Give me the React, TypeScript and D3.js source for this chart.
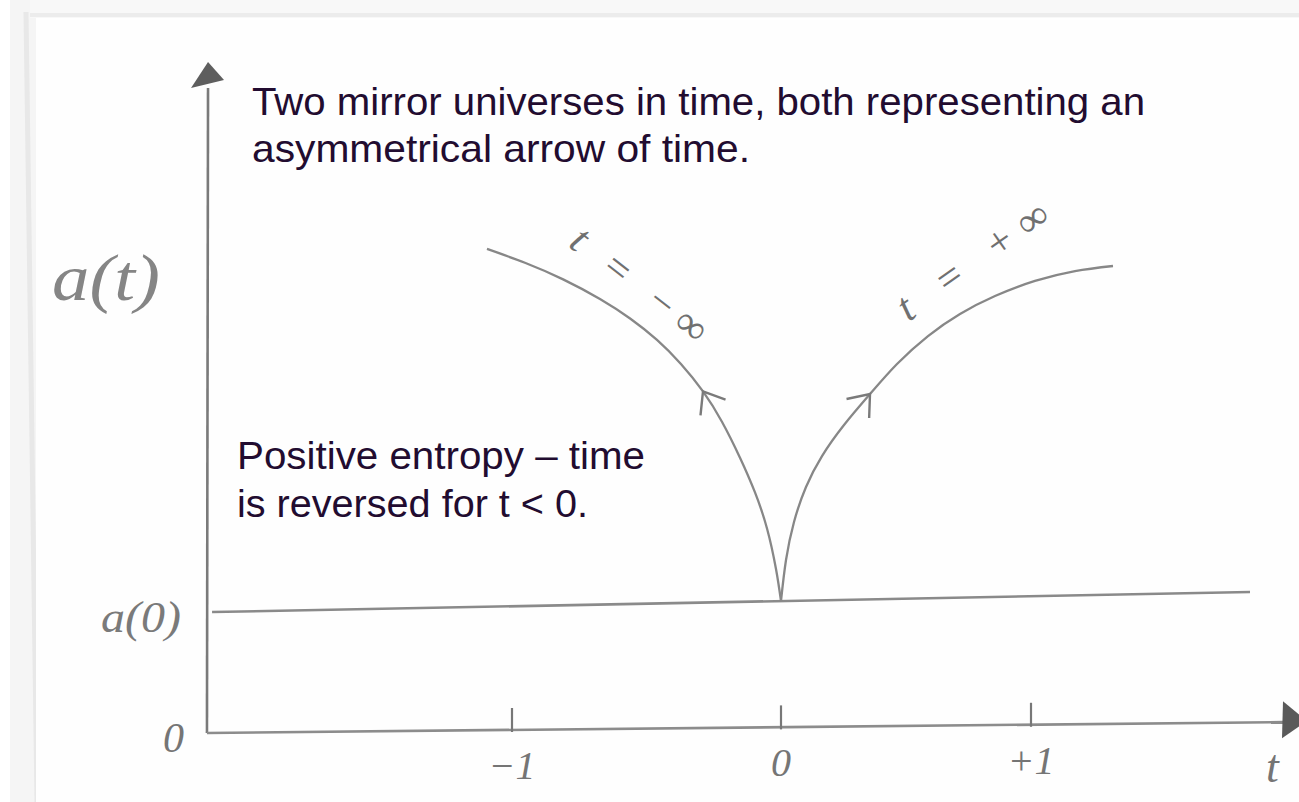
import React from "react";
import * as d3 from "d3";

// Time axis ticks and their hand-written labels
const T_TICKS = [-1, 0, 1];
const T_TICK_LABELS = ["\u22121", "0", "+1"];

// Scale factor a(t) at t = 0
const A0 = 1;

// Branch running back in time (t < 0): t values and scale factor a(t)
const LEFT_T = [0, -0.0186, -0.052, -0.0967, -0.152, -0.219, -0.29, -0.372, -0.461, -0.561, -0.673, -0.81, -0.952, -1.093];
const LEFT_A = [1.0, 1.246, 1.558, 1.835, 2.1, 2.377, 2.612, 2.823, 3.008, 3.173, 3.323, 3.474, 3.602, 3.708];

// Branch running forward in time (t > 0)
const RIGHT_T = [0, 0.02, 0.052, 0.1, 0.164, 0.252, 0.356, 0.464, 0.588, 0.716, 0.856, 1.016, 1.176, 1.328];
const RIGHT_A = [1.0, 1.315, 1.608, 1.877, 2.115, 2.354, 2.592, 2.823, 3.038, 3.208, 3.346, 3.462, 3.538, 3.577];

// Index of the point on each branch that carries a direction arrow
const LEFT_ARROW_INDEX = 6;
const RIGHT_ARROW_INDEX = 6;

// Sketched lines (slightly off level, as drawn by hand)
const X_AXIS_T = [-2.134, 2.008];
const X_AXIS_A = [-0.015, 0.068];
const Y_AXIS_T = [-2.134, -2.13];
const Y_AXIS_A = [-0.015, 4.946];
const A0_LINE_T = [-2.115, 1.876];
const A0_LINE_A = [0.915, 1.069];

const TITLE_LINES = [
  "Two mirror universes in time, both representing an",
  "asymmetrical arrow of time.",
];
const NOTE_LINES = ["Positive entropy \u2013 time", "is reversed for t < 0."];

const W = 1299;
const H = 802;
const INK = "#878787";
const TEXT = "#220c30";
const HAND = "'Liberation Serif', 'DejaVu Serif', serif";
const SANS = "'Liberation Sans', Arial, sans-serif";

const xScale = d3.scaleLinear().domain([-1, 0, 1]).range([512, 781, 1031]);
const yScale = d3.scaleLinear().domain([0, 1]).range([731, 601]);

const zip = (ts: number[], as: number[]): [number, number][] => ts.map((t, i) => [t, as[i]]);

const branchLine = d3
  .line<[number, number]>()
  .x((d) => xScale(d[0]))
  .y((d) => yScale(d[1]))
  .curve(d3.curveNatural);

const straight = d3
  .line<[number, number]>()
  .x((d) => xScale(d[0]))
  .y((d) => yScale(d[1]));

// Chevron arrowhead at a point on a branch, opening back along the curve
function chevron(pts: [number, number][], i: number, len = 24, spread = 38) {
  const [x, y] = [xScale(pts[i][0]), yScale(pts[i][1])];
  const [xb, yb] = [xScale(pts[i - 1][0]), yScale(pts[i - 1][1])];
  const back = Math.atan2(yb - y, xb - x);
  const s = (spread * Math.PI) / 180;
  const a1: [number, number] = [x + len * Math.cos(back - s), y + len * Math.sin(back - s)];
  const a2: [number, number] = [x + len * Math.cos(back + s), y + len * Math.sin(back + s)];
  return `M${a1[0]},${a1[1]}L${x},${y}L${a2[0]},${a2[1]}`;
}

export default function App() {
  const left = zip(LEFT_T, LEFT_A);
  const right = zip(RIGHT_T, RIGHT_A);
  const xAxis = zip(X_AXIS_T, X_AXIS_A);
  const yAxis = zip(Y_AXIS_T, Y_AXIS_A);
  const a0Line = zip(A0_LINE_T, A0_LINE_A);

  const axisAt = (t: number) => {
    const f = (t - X_AXIS_T[0]) / (X_AXIS_T[1] - X_AXIS_T[0]);
    return X_AXIS_A[0] + f * (X_AXIS_A[1] - X_AXIS_A[0]);
  };

  // arrow tips of the axes
  const xEnd = [xScale(X_AXIS_T[1]), yScale(X_AXIS_A[1])];
  const yEnd = [xScale(Y_AXIS_T[1]), yScale(Y_AXIS_A[1])];

  return (
    <svg
      width={W}
      height={H}
      viewBox={`0 0 ${W} ${H}`}
      style={{ position: "absolute", left: 0, top: 0, background: "#fff" }}
    >
      {/* page edge */}
      <rect x={10} y={0} width={26} height={H} fill="#f5f5f5" />
      <line x1={26} y1={12} x2={37} y2={H} stroke="#e8e8e8" strokeWidth={5} />
      <rect x={30} y={0} width={W - 30} height={18} fill="#f8f8f8" />
      <line x1={30} y1={15} x2={W} y2={15} stroke="#ececec" strokeWidth={4} />
      <rect x={36} y={20} width={W - 36} height={H - 20} fill="#fefefe" />

      {/* axes */}
      <path d={straight(yAxis) ?? ""} fill="none" stroke="#7a7a7a" strokeWidth={2.6} />
      <path
        d={`M${yEnd[0]},${yEnd[1] - 26}L${yEnd[0] - 17},${yEnd[1]}L${yEnd[0] + 16},${yEnd[1] - 8}Z`}
        fill="#5e5e5e"
      />
      <path d={straight(xAxis) ?? ""} fill="none" stroke="#8c8c8c" strokeWidth={2.6} />
      <path
        d={`M${xEnd[0] + 24},${xEnd[1] - 1}L${xEnd[0]},${xEnd[1] - 21}L${xEnd[0] - 1},${xEnd[1] + 16}Z`}
        fill="#5a5a5a"
      />

      {/* ticks and labels on the time axis */}
      {T_TICKS.map((t, i) => {
        const x = xScale(t);
        const y0 = yScale(axisAt(t));
        return (
          <g key={t}>
            <line x1={x} y1={y0 + 2} x2={x} y2={y0 - 22} stroke="#777" strokeWidth={2.2} />
            <text
              x={x}
              y={y0 + 49}
              textAnchor="middle"
              fontFamily={HAND}
              fontStyle="italic"
              fontSize={40}
              fill="#757575"
            >
              {T_TICK_LABELS[i]}
            </text>
          </g>
        );
      })}

      {/* a(0) level */}
      <path d={straight(a0Line) ?? ""} fill="none" stroke="#8a8a8a" strokeWidth={2.6} />

      {/* the two branches */}
      <path d={branchLine(left) ?? ""} fill="none" stroke={INK} strokeWidth={2.3} />
      <path d={branchLine(right) ?? ""} fill="none" stroke={INK} strokeWidth={2.3} />
      <path d={chevron(left, LEFT_ARROW_INDEX)} fill="none" stroke="#7a7a7a" strokeWidth={2.4} />
      <path d={chevron(right, RIGHT_ARROW_INDEX)} fill="none" stroke="#7a7a7a" strokeWidth={2.4} />

      {/* branch labels */}
      <text
        transform={`translate(637,288) rotate(38)`}
        textAnchor="middle"
        dominantBaseline="middle"
        fontFamily={HAND}
        fontStyle="italic"
        fontSize={42}
        fill="#707070"
        textLength={162}
        lengthAdjust="spacing"
      >
        {"t = \u2212\u221e"}
      </text>
      <text
        transform={`translate(975,264) rotate(-35)`}
        textAnchor="middle"
        dominantBaseline="middle"
        fontFamily={HAND}
        fontStyle="italic"
        fontSize={42}
        fill="#707070"
        textLength={176}
        lengthAdjust="spacing"
      >
        {"t = +\u221e"}
      </text>

      {/* axis labels */}
      <text x={52} y={300} fontFamily={HAND} fontStyle="italic" fontSize={66} fill="#858585" textLength={108} lengthAdjust="spacingAndGlyphs">
        a(t)
      </text>
      <text x={181} y={yScale(A0) + 31} textAnchor="end" fontFamily={HAND} fontStyle="italic" fontSize={44} fill="#7a7a7a" textLength={80} lengthAdjust="spacingAndGlyphs">
        a(0)
      </text>
      <text x={184} y={yScale(0) + 21} textAnchor="end" fontFamily={HAND} fontStyle="italic" fontSize={42} fill="#757575">
        0
      </text>
      <text x={1266} y={782} fontFamily={HAND} fontStyle="italic" fontSize={46} fill="#757575">
        t
      </text>

      {/* annotations */}
      <text fontFamily={SANS} fontSize={39} fill={TEXT}>
        <tspan x={252} y={115} textLength={893} lengthAdjust="spacingAndGlyphs">
          {TITLE_LINES[0]}
        </tspan>
        <tspan x={252} y={162} textLength={498} lengthAdjust="spacingAndGlyphs">
          {TITLE_LINES[1]}
        </tspan>
      </text>
      <text fontFamily={SANS} fontSize={39} fill={TEXT}>
        <tspan x={237} y={469} textLength={408} lengthAdjust="spacingAndGlyphs">
          {NOTE_LINES[0]}
        </tspan>
        <tspan x={237} y={517} textLength={351} lengthAdjust="spacingAndGlyphs">
          {NOTE_LINES[1]}
        </tspan>
      </text>
    </svg>
  );
}
